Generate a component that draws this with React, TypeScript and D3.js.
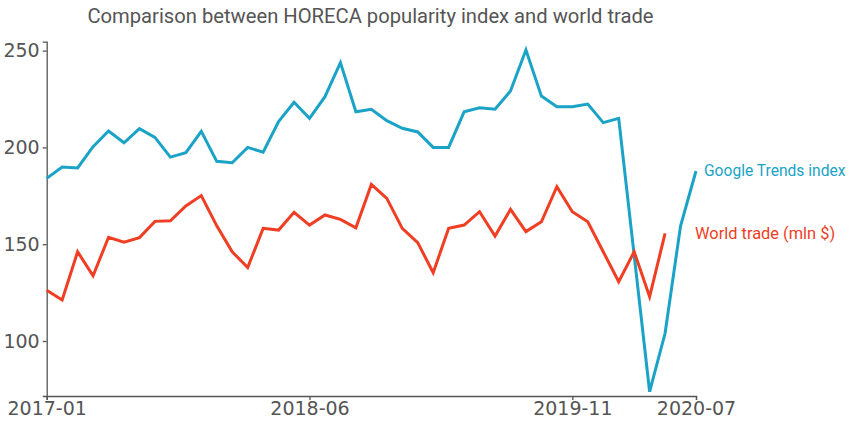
import React, { useEffect, useRef } from "react";
import * as d3 from "d3";

const months: string[] = [];
for (let y = 2017; y <= 2020; y++) {
  for (let m = 1; m <= 12; m++) {
    if (y === 2020 && m > 7) break;
    months.push(`${y}-${String(m).padStart(2, "0")}`);
  }
}

const googleTrends = [
  184.0, 189.9, 189.4, 200.4, 208.5, 202.4, 209.7, 205.2, 195.0, 197.3, 208.3, 192.8,
  192.1, 200.0, 197.5, 213.3, 223.3, 215.0, 226.2, 243.8, 218.4, 219.7, 213.8, 209.9,
  208.0, 200.0, 200.0, 218.4, 220.5, 219.7, 229.1, 250.3, 226.5, 221.0, 221.0, 222.4,
  212.8, 215.0, 144.4, 73.8, 104.0, 159.4, 187.8,
];

const worldTrade = [
  126.2, 121.2, 146.1, 133.7, 153.6, 151.0, 153.4, 161.8, 162.1, 169.8, 175.1, 159.5,
  146.1, 137.9, 158.2, 157.3, 166.5, 159.9, 165.1, 162.8, 158.5, 180.9, 173.7, 158.2,
  150.8, 135.3, 158.2, 159.9, 166.8, 154.2, 168.0, 156.5, 161.6, 179.7, 166.8, 161.6,
  146.1, 130.6, 146.1, 122.9, 155.6,
];

const xTickLabels = ["2017-01", "2018-06", "2019-11", "2020-07"];
const yTicks = [100, 150, 200, 250];
const title = "Comparison between HORECA popularity index and world trade";
const seriesNames = ["Google Trends index", "World trade (mln $)"];
const colors = ["#1aa3c6", "#ef3e23"];

const W = 855;
const H = 431;

export default function App() {
  const ref = useRef<SVGSVGElement>(null);

  useEffect(() => {
    const svg = d3.select(ref.current);
    svg.selectAll("*").remove();

    const x = d3.scaleLinear().domain([0, months.length - 1]).range([46.7, 696]);
    const y = d3.scaleLinear().domain([71.6, 254.6]).range([396, 41.7]);

    const axisColor = "#555";
    const tickFont = "'DejaVu Sans', sans-serif";

    // title
    svg
      .append("text")
      .attr("x", 370.5)
      .attr("y", 23)
      .attr("text-anchor", "middle")
      .attr("font-family", "Roboto, sans-serif")
      .attr("font-size", 20.2)
      .attr("fill", "#555")
      .text(title);

    // y axis
    const gy = svg
      .append("g")
      .attr("transform", `translate(${x(0)},0)`)
      .call(
        d3
          .axisLeft(y)
          .tickValues(yTicks)
          .tickSize(4)
          .tickSizeOuter(4)
          .tickPadding(3)
          .tickFormat((d) => String(d))
      );
    gy.selectAll("path, line").attr("stroke", axisColor).attr("stroke-width", 1.3);
    gy.selectAll("text")
      .attr("font-family", tickFont)
      .attr("font-size", 19)
      .attr("fill", axisColor);

    // x axis
    const xTickIdx = xTickLabels.map((l) => months.indexOf(l));
    const gx = svg
      .append("g")
      .attr("transform", `translate(0,${y(71.6)})`)
      .call(
        d3
          .axisBottom(x)
          .tickValues(xTickIdx)
          .tickSize(4)
          .tickSizeOuter(4)
          .tickPadding(2)
          .tickFormat((d) => months[d as number])
      );
    gx.selectAll("path, line").attr("stroke", axisColor).attr("stroke-width", 1.3);
    gx.selectAll("text")
      .attr("font-family", tickFont)
      .attr("font-size", 19)
      .attr("fill", axisColor);

    const line = d3
      .line<number>()
      .x((_, i) => x(i))
      .y((d) => y(d));

    const series = [googleTrends, worldTrade];
    const labelOffsets = [8, 30];
    const labelSizes = [15.6, 16.4];
    series.forEach((s, k) => {
      svg
        .append("path")
        .datum(s)
        .attr("fill", "none")
        .attr("stroke", colors[k])
        .attr("stroke-width", 3)
        .attr("stroke-linejoin", "miter")
        .attr("d", line);
      const last = s.length - 1;
      svg
        .append("text")
        .attr("x", x(last) + labelOffsets[k])
        .attr("y", y(s[last]))
        .attr("dy", "0.35em")
        .attr("font-family", "Roboto, sans-serif")
        .attr("font-size", labelSizes[k])
        .attr("fill", colors[k])
        .text(seriesNames[k]);
    });
  }, []);

  return (
    <div style={{ position: "absolute", left: 0, top: 0 }}>
      <svg ref={ref} width={W} height={H} style={{ display: "block", background: "#fff" }} />
    </div>
  );
}
